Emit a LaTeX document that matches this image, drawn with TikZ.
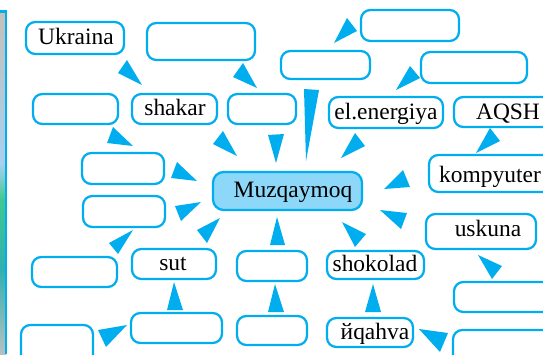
\documentclass[tikz,border=0pt]{standalone}
\usepackage{fontspec}
\setmainfont{Liberation Serif}
\definecolor{cy}{HTML}{00AEEF}
\definecolor{mz}{HTML}{8DD8F8}
\definecolor{st1}{HTML}{C4C0B8}
\definecolor{st2}{HTML}{A8D0F0}
\definecolor{st3}{HTML}{40C890}
\definecolor{st4}{HTML}{30B0B0}
\definecolor{st5}{HTML}{B8C0C0}
\tikzset{
  x=0.75pt,y=-0.75pt,
  bx/.style={draw=cy,line width=1.7pt,rounded corners=7pt,fill=white},
  lab/.style={font=\fontsize{17.6}{19}\selectfont,text=black,inner sep=0pt,anchor=base},
  tri/.style={fill=cy,draw=none}
}
\newcommand{\bxx}[5]{\draw[bx] (#2,#3) rectangle (#4,#5) node[midway,inner sep=0pt] (#1) {};}
\begin{document}
\begin{tikzpicture}
\useasboundingbox (0,0) rectangle (543,354);
\fill[white] (0,0) rectangle (543,354);
% strip of picture at the left edge
\shade[top color=st1,bottom color=st2] (0,12) rectangle (6,165);
\shade[top color=st2,bottom color=st3] (0,164) rectangle (6,200);
\shade[top color=st3,bottom color=st4] (0,199) rectangle (6,270);
\shade[top color=st4,bottom color=st5] (0,269) rectangle (6,354);
\fill[cy] (0,10) rectangle (7,13);
\fill[cy] (5,10) rectangle (7,354);
% boxes
\bxx{a}{26}{22}{124}{54}
\bxx{b}{147}{23}{255}{60}
\bxx{c}{33}{94}{118}{124}
\bxx{d}{132}{94}{217}{124}
\bxx{e}{228}{94}{296}{124}
\bxx{f}{281}{51}{370}{79}
\bxx{g}{361}{10}{459}{41}
\bxx{h}{421}{52}{527}{83}
\bxx{i}{329}{97}{443}{128}
\bxx{j}{454}{97}{560}{127}
\bxx{k}{429}{155}{560}{192}
\bxx{l}{82}{153}{164}{184}
\bxx{m}{83}{196}{165}{227}
\bxx{n}{32}{257}{117}{287}
\bxx{o}{132}{249}{216}{279}
\bxx{p}{237}{251}{307}{281}
\bxx{q}{327}{251}{424}{279}
\bxx{r}{426}{214}{536}{249}
\bxx{s}{454}{282}{560}{312}
\bxx{t}{131}{313}{222}{343}
\bxx{u}{237}{316}{307}{345}
\bxx{v}{327}{318}{413}{347}
\bxx{w}{453}{330}{560}{370}
\bxx{y}{21}{325}{93}{370}
\draw[bx,fill=mz,rounded corners=8pt] (213,172) rectangle (362,210) node[midway,inner sep=0pt] (z) {};
% labels
\node[lab] at (76,44) {Ukraina};
\node[lab] at (175,115) {shakar};
\node[lab] at (386,119) {el.energiya};
\node[lab] at (508,119) {AQSH};
\node[lab] at (490,182) {kompyuter};
\node[lab] at (293,197) {Muzqaymoq};
\node[lab] at (173,270) {sut};
\node[lab] at (375,271) {shokolad};
\node[lab] at (488,236) {uskuna};
\node[lab] at (375,339) {йqahva};
% triangles
\fill[tri] (127,60) -- (118,73) -- (142,85) -- cycle;
\fill[tri] (243,63) -- (233,77) -- (257,88) -- cycle;
\fill[tri] (113,127) -- (107,143) -- (133,146) -- cycle;
\fill[tri] (223,131) -- (213,144) -- (237,156) -- cycle;
\fill[tri] (268,135) -- (284,134) -- (276,163) -- cycle;
\fill[tri] (177,162) -- (171,178) -- (197,181) -- cycle;
\fill[tri] (175,206) -- (201,202) -- (181,221) -- cycle;
\fill[tri] (220,218) -- (197,230) -- (207,243) -- cycle;
\fill[tri] (133,230) -- (109,243) -- (118,254) -- cycle;
\fill[tri] (174,282) -- (167,310) -- (183,310) -- cycle;
\fill[tri] (127,325) -- (98,330) -- (106,347) -- cycle;
\fill[tri] (277,217) -- (270,245) -- (285,245) -- cycle;
\fill[tri] (275,284) -- (268,312) -- (284,312) -- cycle;
\fill[tri] (304,89) -- (319,90) -- (306,161) -- cycle;
\fill[tri] (347,18) -- (357,31) -- (334,43) -- cycle;
\fill[tri] (410,66) -- (420,78) -- (396,90) -- cycle;
\fill[tri] (355,133) -- (365,146) -- (341,158) -- cycle;
\fill[tri] (490,128) -- (500,141) -- (476,153) -- cycle;
\fill[tri] (403,170) -- (410,187) -- (384,189) -- cycle;
\fill[tri] (380,210) -- (407,213) -- (401,229) -- cycle;
\fill[tri] (342,222) -- (366,234) -- (355,247) -- cycle;
\fill[tri] (373,284) -- (381,312) -- (365,312) -- cycle;
\fill[tri] (419,329) -- (448,333) -- (440,352) -- cycle;
\fill[tri] (478,255) -- (502,266) -- (492,279) -- cycle;
\end{tikzpicture}
\end{document}
